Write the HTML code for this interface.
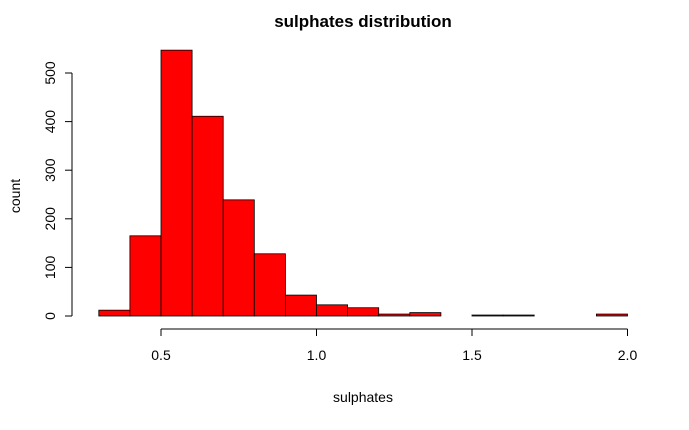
<!DOCTYPE html>
<html><head><meta charset="utf-8"><style>
body{margin:0;background:#fff}
svg text{font-family:"Liberation Sans",Arial,sans-serif;fill:#000}
</style></head><body>
<svg id="c" width="689" height="425" xmlns="http://www.w3.org/2000/svg">
<text x="363" y="27" text-anchor="middle" font-size="17" font-weight="bold">sulphates distribution</text>
<text x="363" y="402" text-anchor="middle" font-size="14">sulphates</text>
<text transform="translate(20,196) rotate(-90)" text-anchor="middle" font-size="14">count</text>
<g id="bars"></g>
<g id="axes"></g>
</svg>
<script>
const binStarts=[0.3,0.4,0.5,0.6,0.7,0.8,0.9,1.0,1.1,1.2,1.3,1.4,1.5,1.6,1.7,1.8,1.9];
const counts=[12,165,547,411,239,128,43,23,17,4,7,0,2,2,0,0,4];
const binWidth=0.1;
const xTicks=[0.5,1.0,1.5,2.0];
const xTickLabels=["0.5","1.0","1.5","2.0"];
const yTicks=[0,100,200,300,400,500];
const ns="http://www.w3.org/2000/svg";
function xs(v){return 161+(v-0.5)*311;}
function ys(v){return 316-v*0.486;}
const bars=document.getElementById('bars');
binStarts.forEach((b,i)=>{
  const r=document.createElementNS(ns,'rect');
  const x0=xs(b),x1=xs(b+binWidth),y=ys(counts[i]);
  r.setAttribute('x',x0);r.setAttribute('y',y);
  r.setAttribute('width',x1-x0);r.setAttribute('height',316-y);
  r.setAttribute('fill','#ff0000');r.setAttribute('stroke','#000');r.setAttribute('stroke-width','0.8');
  
  
  bars.appendChild(r);
});
const ax=document.getElementById('axes');
function line(x1,y1,x2,y2){const l=document.createElementNS(ns,'line');l.setAttribute('x1',x1);l.setAttribute('y1',y1);l.setAttribute('x2',x2);l.setAttribute('y2',y2);l.setAttribute('stroke','#000');ax.appendChild(l);return l;}
const xl=line(xs(xTicks[0]),329,xs(xTicks[xTicks.length-1]),329);


xTicks.forEach((t,i)=>{
  line(xs(t),329,xs(t),336);
  const tx=document.createElementNS(ns,'text');
  tx.setAttribute('x',xs(t));tx.setAttribute('y',360);tx.setAttribute('text-anchor','middle');tx.setAttribute('font-size','14');
  tx.textContent=xTickLabels[i];
  
  
  ax.appendChild(tx);
});
const yl=line(72,ys(yTicks[0]),72,ys(yTicks[yTicks.length-1]));


yTicks.forEach(t=>{
  line(65,ys(t),72,ys(t));
  const tx=document.createElementNS(ns,'text');
  tx.setAttribute('transform','translate(55,'+ys(t)+') rotate(-90)');tx.setAttribute('text-anchor','middle');tx.setAttribute('font-size','14');
  tx.textContent=String(t);
  
  
  ax.appendChild(tx);
});
</script>
</body></html>
